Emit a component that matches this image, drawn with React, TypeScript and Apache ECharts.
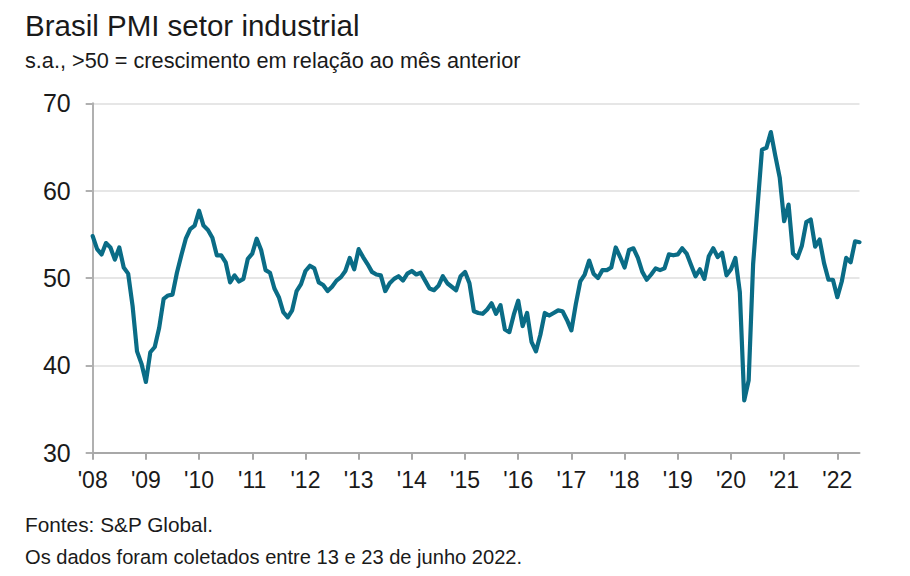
import React, { useEffect, useRef } from "react";
import * as echarts from "echarts";

// Brazil manufacturing PMI, monthly, Jan 2008 - Jun 2022
const pmi2008 = [54.8, 53.3, 52.7, 54.0, 53.5, 52.1, 53.5, 51.2, 50.5, 46.8, 41.6, 40.2];
const pmi2009 = [38.1, 41.5, 42.1, 44.3, 47.6, 48.0, 48.1, 50.6, 52.6, 54.5, 55.6, 56.0];
const pmi2010 = [57.7, 56.0, 55.5, 54.6, 52.6, 52.6, 51.8, 49.5, 50.3, 49.6, 49.9, 52.2];
const pmi2011 = [52.8, 54.5, 53.2, 50.9, 50.6, 48.8, 47.8, 46.1, 45.5, 46.3, 48.5, 49.3];
const pmi2012 = [50.8, 51.4, 51.1, 49.5, 49.2, 48.5, 49.0, 49.7, 50.1, 50.8, 52.3, 51.0];
const pmi2013 = [53.3, 52.4, 51.6, 50.7, 50.4, 50.3, 48.5, 49.4, 49.9, 50.2, 49.7, 50.5];
const pmi2014 = [50.8, 50.4, 50.6, 49.7, 48.8, 48.6, 49.1, 50.2, 49.4, 49.0, 48.6, 50.2];
const pmi2015 = [50.7, 49.4, 46.2, 46.0, 45.9, 46.4, 47.1, 45.9, 46.9, 44.1, 43.8, 45.8];
const pmi2016 = [47.4, 44.5, 46.0, 42.7, 41.6, 43.5, 46.0, 45.7, 46.0, 46.3, 46.2, 45.2];
const pmi2017 = [44.0, 47.0, 49.6, 50.4, 52.0, 50.5, 50.0, 50.9, 50.9, 51.2, 53.5, 52.4];
const pmi2018 = [51.2, 53.2, 53.4, 52.3, 50.7, 49.8, 50.4, 51.1, 50.9, 51.1, 52.7, 52.6];
const pmi2019 = [52.7, 53.4, 52.8, 51.5, 50.2, 51.0, 49.9, 52.5, 53.4, 52.4, 52.9, 50.3];
const pmi2020 = [51.0, 52.3, 48.4, 36.0, 38.3, 51.6, 58.2, 64.7, 64.9, 66.7, 64.0, 61.5];
const pmi2021 = [56.5, 58.4, 52.8, 52.3, 53.7, 56.4, 56.7, 53.6, 54.4, 51.7, 49.8, 49.8];
const pmi2022 = [47.8, 49.6, 52.3, 51.8, 54.2, 54.1];

const startYear = 2008;
const yTicks = [30, 40, 50, 60, 70];

const titleText = "Brasil PMI setor industrial";
const subtitleText = "s.a., >50 = crescimento em relação ao mês anterior";
const sourceText = "Fontes: S&P Global.";
const noteText = "Os dados foram coletados entre 13 e 23 de junho 2022.";

const yearly = [
  pmi2008, pmi2009, pmi2010, pmi2011, pmi2012, pmi2013, pmi2014, pmi2015,
  pmi2016, pmi2017, pmi2018, pmi2019, pmi2020, pmi2021, pmi2022,
];

const values: number[] = [];
const categories: string[] = [];
yearly.forEach((arr, yi) => {
  arr.forEach((v, mi) => {
    values.push(v);
    categories.push(String(startYear + yi) + "-" + String(mi + 1).padStart(2, "0"));
  });
});

const FONT = "'Liberation Sans', Arial, sans-serif";

export default function App() {
  const ref = useRef<HTMLDivElement>(null);
  useEffect(() => {
    if (!ref.current) return;
    const chart = echarts.init(ref.current, undefined, { renderer: "svg" });
    const yearStart = (i: number) => i % 12 === 0;
    chart.setOption({
      animation: false,
      backgroundColor: "#ffffff",
      textStyle: { fontFamily: FONT },
      grid: { left: 92.7, right: 50.5, top: 103.3, bottom: 123.3, containLabel: false },
      graphic: [
        {
          type: "text",
          style: { x: 25, y: 25, text: titleText, fill: "#1a1a1a", font: `29.5px ${FONT}`, verticalAlign: "middle" },
        },
        {
          type: "text",
          style: { x: 25, y: 60, text: subtitleText, fill: "#1a1a1a", font: `21.7px ${FONT}`, verticalAlign: "middle" },
        },
        {
          type: "text",
          style: { x: 25, y: 524, text: sourceText, fill: "#1a1a1a", font: `20.8px ${FONT}`, verticalAlign: "middle" },
        },
        {
          type: "text",
          style: { x: 25, y: 557, text: noteText, fill: "#1a1a1a", font: `20.1px ${FONT}`, verticalAlign: "middle" },
        },
      ],
      xAxis: {
        type: "category",
        data: categories,
        boundaryGap: false,
        axisLine: { show: true, lineStyle: { color: "#a8a8a8", width: 2 } },
        axisTick: { show: true, interval: (i: number) => yearStart(i), length: 7, lineStyle: { color: "#a8a8a8", width: 2 } },
        axisLabel: {
          interval: (i: number) => yearStart(i),
          formatter: (v: string) => "'" + v.slice(2, 4),
          color: "#1a1a1a",
          fontSize: 23,
          margin: 16,
          fontFamily: FONT,
        },
        splitLine: { show: false },
      },
      yAxis: {
        type: "value",
        min: yTicks[0],
        max: yTicks[yTicks.length - 1],
        interval: 10,
        axisLine: { show: true, lineStyle: { color: "#b0b0b0", width: 2 } },
        axisTick: { show: true, length: 7, lineStyle: { color: "#b0b0b0", width: 2 } },
        axisLabel: { color: "#1a1a1a", fontSize: 25, margin: 22, fontFamily: FONT },
        splitLine: { show: true, lineStyle: { color: "#dedede", width: 1.5 } },
      },
      series: [
        {
          type: "line",
          data: values,
          symbol: "none",
          smooth: false,
          lineStyle: { color: "#0a6c86", width: 4.2, join: "round", cap: "round" },
          z: 5,
        },
      ],
    });
    return () => chart.dispose();
  }, []);
  return (
    <div
      ref={ref}
      style={{ position: "fixed", left: 0, top: 0, width: 910, height: 576, background: "#fff" }}
    />
  );
}
